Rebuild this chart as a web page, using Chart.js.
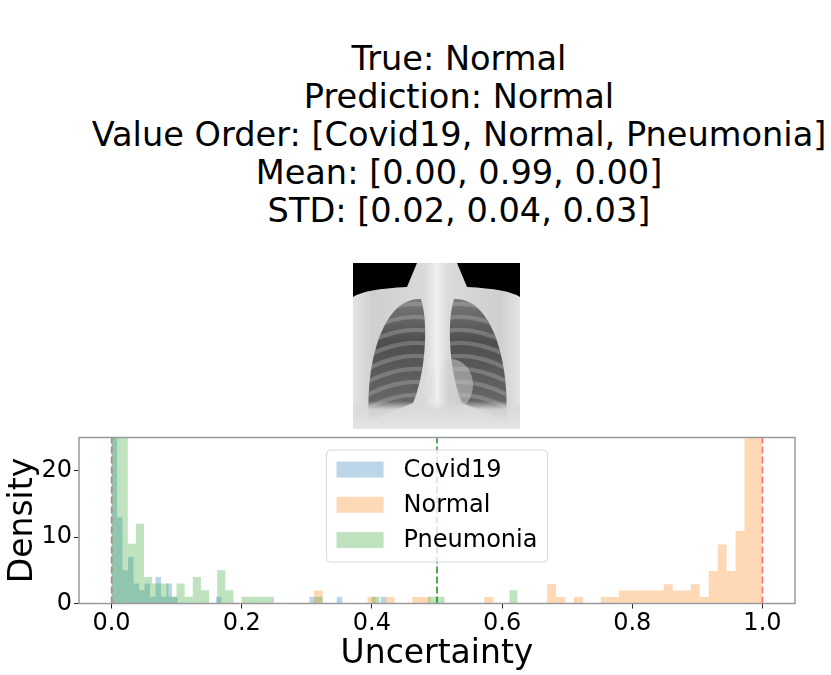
<!DOCTYPE html>
<html>
<head>
<meta charset="utf-8">
<script src="https://cdn.jsdelivr.net/npm/chart.js@4.4.1/dist/chart.umd.min.js"></script>
<style>
  html, body { margin: 0; padding: 0; background: #fff; }
  body { width: 831px; height: 675px; position: relative; overflow: hidden; font-family: "DejaVu Sans", sans-serif; }
  #title { position: absolute; left: 459px; top: 40px; transform: translateX(-50%); white-space: nowrap;
           text-align: center; font-size: 33.6px; line-height: 38px; color: #000; }
  #xray { position: absolute; left: 353px; top: 263px; }
  #hist { position: absolute; left: 0; top: 420px; }
</style>
</head>
<body>
<div id="title"></div>
<canvas id="xray" width="167" height="166"></canvas>
<canvas id="hist" width="831" height="255"></canvas>
<script>
const titleLines = [
  'True: Normal',
  'Prediction: Normal',
  'Value Order: [Covid19, Normal, Pneumonia]',
  'Mean: [0.00, 0.99, 0.00]',
  'STD: [0.02, 0.04, 0.03]'
];

const classNames = ['Covid19', 'Normal', 'Pneumonia'];

// histogram bins (50 per class, density)
const covidStart = 0.0;
const covidBinWidth = 0.00844;
const covidDensity = [
  70, 13, 5, 7, 3, 2, 3, 1, 4, 1,
  3, 1, 0, 0, 0, 0, 0, 0, 0, 1,
  0, 0, 0, 0, 0, 0, 0, 0, 0, 0,
  0, 0, 0, 0, 0, 0, 1, 0, 0, 0,
  0, 1, 0, 0, 0, 0, 0, 0, 0, 1
];

const normalStart = 0.3106;
const normalBinWidth = 0.01379;
const normalDensity = [
  1.95, 0, 0, 0, 0, 0, 0.97, 0, 0.97, 0,
  0, 0.97, 0.97, 0, 0, 0, 0, 0, 0, 0.97,
  0, 0, 0, 0, 0, 0, 2.9, 0.97, 0, 0.97,
  0, 0, 0.97, 0.97, 1.95, 1.95, 1.95, 1.95, 1.95, 2.9,
  1.95, 1.95, 2.9, 0.97, 4.9, 8.9, 4.9, 10.9, 30, 60
];

const pneumoniaStart = 0.0;
const pneumoniaBinWidth = 0.01248;
const pneumoniaDensity = [
  40, 30, 9, 12, 4, 3, 3, 1, 3, 1,
  4, 2, 0, 5, 2, 0, 1, 1, 1, 1,
  0, 0, 0, 0, 0, 1, 0, 0, 0, 0,
  0, 0, 1, 0, 0, 0, 0, 0, 0, 1,
  1, 0, 0, 0, 0, 0, 0, 0, 0, 2
];

const xTicks = [0.0, 0.2, 0.4, 0.6, 0.8, 1.0];
const yTicks = [0, 10, 20];
const redLines = [0.0, 1.0];
const greenLines = [0.5];

const FONT = '"DejaVu Sans", sans-serif';

document.getElementById('title').innerHTML = titleLines.join('<br>');

// x-ray picture (just a drawn stand-in)
function drawXray(c) {
  const g = c.getContext('2d');
  const W = c.width, H = c.height;
  g.fillStyle = '#000';
  g.fillRect(0, 0, W, H);

  // body outline
  g.beginPath();
  g.moveTo(0, H);
  g.lineTo(0, 34);
  g.quadraticCurveTo(12, 26, 54, 24);
  g.lineTo(64, 0);
  g.lineTo(104, 0);
  g.lineTo(114, 24);
  g.quadraticCurveTo(155, 26, W, 34);
  g.lineTo(W, H);
  g.closePath();
  let grd = g.createLinearGradient(0, 0, W, 0);
  grd.addColorStop(0, '#e4e4e4');
  grd.addColorStop(0.12, '#cfcfcf');
  grd.addColorStop(0.5, '#dcdcdc');
  grd.addColorStop(0.88, '#cfcfcf');
  grd.addColorStop(1, '#e4e4e4');
  g.fillStyle = grd;
  g.fill();

  // lungs
  function lung(cx, dir) {
    g.beginPath();
    g.moveTo(cx + dir * 16, 36);
    g.bezierCurveTo(cx - dir * 22, 34, cx - dir * 40, 100, cx - dir * 36, 158);
    g.lineTo(cx + dir * 8, 140);
    g.bezierCurveTo(cx + dir * 20, 112, cx + dir * 24, 62, cx + dir * 16, 36);
    g.closePath();
  }
  [[52, 1], [117, -1]].forEach(([cx, dir]) => {
    g.save();
    lung(cx, dir);
    const lg = g.createLinearGradient(0, 36, 0, 158);
    lg.addColorStop(0, '#7a7a7a');
    lg.addColorStop(0.35, '#4e4e4e');
    lg.addColorStop(1, '#6f6f6f');
    g.fillStyle = lg;
    g.fill();
    g.clip();
    g.strokeStyle = 'rgba(200,200,200,0.3)';
    g.lineWidth = 4;
    for (let y = 42; y < 165; y += 13) {
      g.beginPath();
      g.moveTo(cx - dir * 42, y + 14);
      g.quadraticCurveTo(cx, y - 8, cx + dir * 30, y + 2);
      g.stroke();
    }
    g.restore();
  });

  // heart shadow
  g.fillStyle = 'rgba(200,200,200,0.55)';
  g.beginPath();
  g.ellipse(98, 122, 22, 26, 0, 0, Math.PI * 2);
  g.fill();

  // spine
  const sg = g.createLinearGradient(72, 0, 96, 0);
  sg.addColorStop(0, 'rgba(235,235,235,0)');
  sg.addColorStop(0.5, 'rgba(242,242,242,0.95)');
  sg.addColorStop(1, 'rgba(235,235,235,0)');
  g.fillStyle = sg;
  g.fillRect(72, 0, 24, H);

  // abdomen
  const ag = g.createLinearGradient(0, 138, 0, H);
  ag.addColorStop(0, 'rgba(218,218,218,0)');
  ag.addColorStop(0.3, 'rgba(218,218,218,0.9)');
  ag.addColorStop(1, 'rgba(228,228,228,1)');
  g.fillStyle = ag;
  g.fillRect(0, 138, W, H - 138);
}
drawXray(document.getElementById('xray'));

function histPoints(start, width, heights) {
  const pts = heights.map((h, i) => ({ x: start + i * width, y: h }));
  pts.push({ x: start + heights.length * width, y: 0 });
  return pts;
}

const overlay = {
  id: 'overlay',
  afterDatasetsDraw(chart) {
    const { ctx, chartArea: a, scales: { x } } = chart;
    ctx.save();
    ctx.beginPath();
    ctx.rect(a.left, a.top, a.right - a.left, a.bottom - a.top);
    ctx.clip();
    ctx.lineWidth = 1.5;
    ctx.setLineDash([7, 3]);
    const vline = (v, color) => {
      const px = x.getPixelForValue(v);
      ctx.strokeStyle = color;
      ctx.beginPath();
      ctx.moveTo(px, a.bottom);
      ctx.lineTo(px, a.top);
      ctx.stroke();
    };
    redLines.forEach(v => vline(v, 'rgba(255,0,0,0.55)'));
    greenLines.forEach(v => vline(v, 'rgba(0,128,0,0.9)'));
    ctx.restore();

    // frame
    ctx.save();
    ctx.strokeStyle = '#9a9a9a';
    ctx.lineWidth = 1.5;
    ctx.strokeRect(a.left, a.top, a.right - a.left, a.bottom - a.top);
    ctx.restore();

    // legend, upper center
    ctx.save();
    ctx.font = '24px ' + FONT;
    const sets = chart.data.datasets;
    const textW = Math.max(...sets.map(d => ctx.measureText(d.label).width));
    const w = 10 + 47 + 20 + textW + 10;
    const h = 112;
    const left = (a.left + a.right) / 2 - w / 2;
    const top = a.top + 12.5;
    ctx.beginPath();
    ctx.roundRect(left, top, w, h, 4);
    ctx.fillStyle = 'rgba(255,255,255,0.8)';
    ctx.fill();
    ctx.strokeStyle = '#d6d6d6';
    ctx.lineWidth = 1;
    ctx.stroke();
    ctx.textBaseline = 'middle';
    sets.forEach((d, i) => {
      const cy = top + 19.5 + i * 35.3;
      ctx.fillStyle = d.backgroundColor;
      ctx.fillRect(left + 10, cy - 8, 47, 16);
      ctx.fillStyle = '#000';
      ctx.fillText(d.label, left + 77, cy + 1);
    });
    ctx.restore();
  }
};

const ctx = document.getElementById('hist').getContext('2d');
new Chart(ctx, {
  type: 'line',
  data: {
    datasets: [
      { label: classNames[0], data: histPoints(covidStart, covidBinWidth, covidDensity),
        backgroundColor: 'rgba(31,119,180,0.3)', order: 3 },
      { label: classNames[1], data: histPoints(normalStart, normalBinWidth, normalDensity),
        backgroundColor: 'rgba(255,127,14,0.3)', order: 2 },
      { label: classNames[2], data: histPoints(pneumoniaStart, pneumoniaBinWidth, pneumoniaDensity),
        backgroundColor: 'rgba(44,160,44,0.3)', order: 1 }
    ].map(d => Object.assign(d, { fill: 'origin', stepped: true, borderWidth: 0, pointRadius: 0, borderColor: 'rgba(0,0,0,0)' }))
  },
  options: {
    responsive: false,
    animation: false,
    layout: { padding: { left: 0, right: 36, top: 17.5, bottom: 0 } },
    plugins: {
      legend: { display: false },
      tooltip: { enabled: false },
      title: { display: false }
    },
    scales: {
      x: {
        type: 'linear',
        min: -0.05,
        max: 1.05,
        afterBuildTicks: s => { s.ticks = xTicks.map(v => ({ value: v })); },
        afterFit: s => { s.height = 71.5; },
        ticks: { callback: v => v.toFixed(1), font: { size: 24, family: FONT }, color: '#000',
                 padding: 1, maxRotation: 0, autoSkip: false },
        grid: { drawOnChartArea: false, drawTicks: true, tickLength: 5, color: '#222' },
        border: { display: false },
        title: { display: true, text: 'Uncertainty', font: { size: 33, family: FONT }, color: '#000',
                 padding: { top: 0, bottom: 1 } }
      },
      y: {
        min: 0,
        max: 25,
        afterBuildTicks: s => { s.ticks = yTicks.map(v => ({ value: v })); },
        afterFit: s => { s.width = 79; },
        ticks: { font: { size: 24, family: FONT }, color: '#000', padding: 2 },
        grid: { drawOnChartArea: false, drawTicks: true, tickLength: 5, color: '#222' },
        border: { display: false },
        title: { display: true, text: 'Density', font: { size: 33, family: FONT }, color: '#000',
                 padding: { top: 4, bottom: 0 } }
      }
    }
  },
  plugins: [overlay]
});
</script>
</body>
</html>
